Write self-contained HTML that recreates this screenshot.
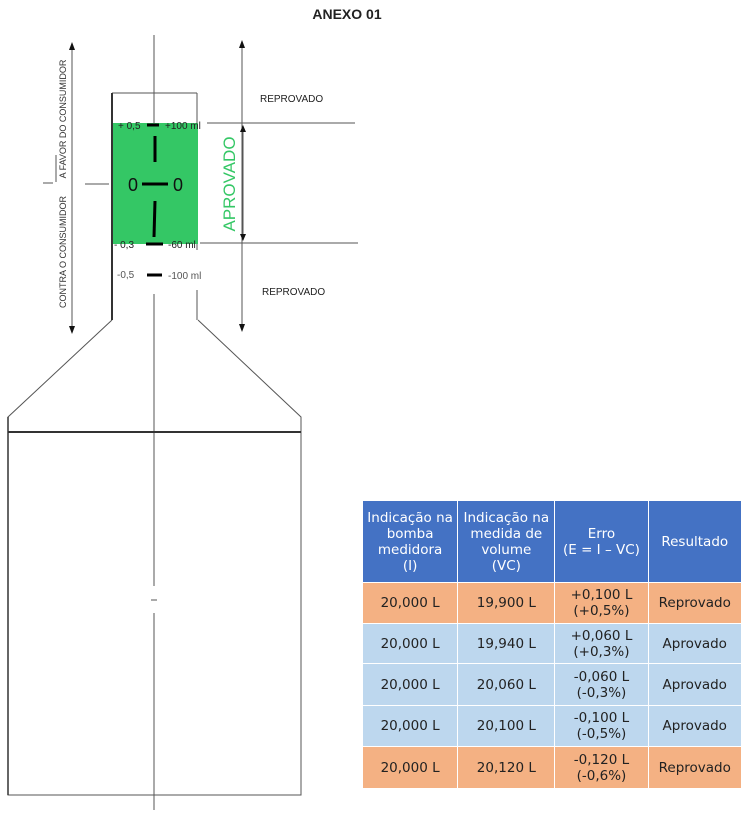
<!DOCTYPE html>
<html><head><meta charset="utf-8"><style>
body{margin:0;background:#fff;width:742px;height:817px;overflow:hidden;position:relative;font-family:"Liberation Sans",sans-serif}
table{position:absolute;left:362px;top:500px;border-collapse:collapse;font-family:"DejaVu Sans","Liberation Sans",sans-serif;font-size:13.5px;color:#222}
td{border:1.5px solid #fff;text-align:center;padding:0;line-height:16px}
th{background:#4472c4;color:#fff;font-weight:normal;border:1.5px solid #fff;line-height:16px;font-size:13.5px;padding:0}
.r{background:#f4b183}.a{background:#bdd7ee}
</style></head><body>
<svg width="742" height="817" style="position:absolute;left:0;top:0" font-family="Liberation Sans, sans-serif">
<text x="347" y="19" text-anchor="middle" font-size="14" font-weight="bold" fill="#222">ANEXO 01</text>
<rect x="111" y="123" width="87" height="121" fill="#34c765"/>
<g stroke="#555" stroke-width="1" fill="none">
<line x1="154" y1="35" x2="154" y2="123"/>
<line x1="154" y1="294" x2="154" y2="586"/>
<line x1="154" y1="613" x2="154" y2="810"/>
<line x1="151" y1="600" x2="157" y2="600"/>
<line x1="112" y1="93" x2="197" y2="93"/>
<line x1="197" y1="93" x2="197" y2="123"/>
<line x1="197" y1="244" x2="197" y2="250"/>
<line x1="197" y1="290" x2="197" y2="320"/>
<polyline points="112,320 8,417 8,795 301,795 301,417 198,320"/>
<line x1="207" y1="123" x2="355" y2="123"/>
<line x1="200" y1="243" x2="358" y2="243"/>
<line x1="85" y1="184" x2="109" y2="184"/>
<line x1="43" y1="183" x2="53" y2="183"/>
<line x1="56" y1="155" x2="56" y2="182"/>
<line x1="72" y1="48" x2="72" y2="328"/>
<line x1="242" y1="46" x2="242" y2="326"/>
<line x1="243" y1="130" x2="243" y2="236"/>
</g>
<line x1="112" y1="93" x2="112" y2="320" stroke="#333" stroke-width="2"/>
<line x1="8" y1="432" x2="301" y2="432" stroke="#333" stroke-width="2"/>
<line x1="8" y1="417" x2="8" y2="795" stroke="#333" stroke-width="1.5"/>
<g fill="#111">
<polygon points="72,42 69,50 75,50"/><polygon points="72,334 69,326 75,326"/>
<polygon points="242,40 239,48 245,48"/><polygon points="242,332 239,324 245,324"/>
<polygon points="243,125 240,132 246,132"/><polygon points="243,241 240,234 246,234"/>
</g>
<g stroke="#000" stroke-width="3">
<line x1="147" y1="125" x2="159" y2="125"/>
<line x1="155" y1="136" x2="155" y2="162"/>
<line x1="142" y1="184" x2="168" y2="184"/>
<line x1="155" y1="201" x2="154" y2="237"/>
<line x1="146" y1="244" x2="163" y2="244"/>
<line x1="147" y1="275" x2="162" y2="275"/>
</g>
<g font-size="10" fill="#222">
<text x="118" y="129">+ 0,5</text><text x="165" y="129">+100 ml</text>
<text x="114" y="248">- 0,3</text><text x="168" y="248">-60 ml</text>
<text x="117" y="278" fill="#555">-0,5</text><text x="168" y="279" fill="#555">-100 ml</text>
<text x="260" y="102">REPROVADO</text><text x="262" y="295">REPROVADO</text>
</g>
<text x="133" y="191" font-size="18" text-anchor="middle" fill="#111">0</text>
<text x="178" y="191" font-size="18" text-anchor="middle" fill="#111">0</text>
<text transform="translate(235,184) rotate(-90)" text-anchor="middle" font-size="17" fill="#34c765">APROVADO</text>
<g font-size="9" fill="#333">
<text transform="translate(66,119) rotate(-90)" text-anchor="middle">A FAVOR DO CONSUMIDOR</text>
<text transform="translate(66,252) rotate(-90)" text-anchor="middle">CONTRA O CONSUMIDOR</text>
</g>
</svg>
<table>
<tr style="height:82px"><th style="width:95px">Indicação na<br>bomba<br>medidora<br>(I)</th><th style="width:97px">Indicação na<br>medida de<br>volume<br>(VC)</th><th style="width:93px">Erro<br>(E = I – VC)</th><th style="width:93px">Resultado</th></tr>
<tr class="r" style="height:41px"><td>20,000 L</td><td>19,900 L</td><td>+0,100 L<br>(+0,5%)</td><td>Reprovado</td></tr>
<tr class="a" style="height:40px"><td>20,000 L</td><td>19,940 L</td><td>+0,060 L<br>(+0,3%)</td><td>Aprovado</td></tr>
<tr class="a" style="height:42px"><td>20,000 L</td><td>20,060 L</td><td>-0,060 L<br>(-0,3%)</td><td>Aprovado</td></tr>
<tr class="a" style="height:41px"><td>20,000 L</td><td>20,100 L</td><td>-0,100 L<br>(-0,5%)</td><td>Aprovado</td></tr>
<tr class="r" style="height:42px"><td>20,000 L</td><td>20,120 L</td><td>-0,120 L<br>(-0,6%)</td><td>Reprovado</td></tr>
</table>
</body></html>
